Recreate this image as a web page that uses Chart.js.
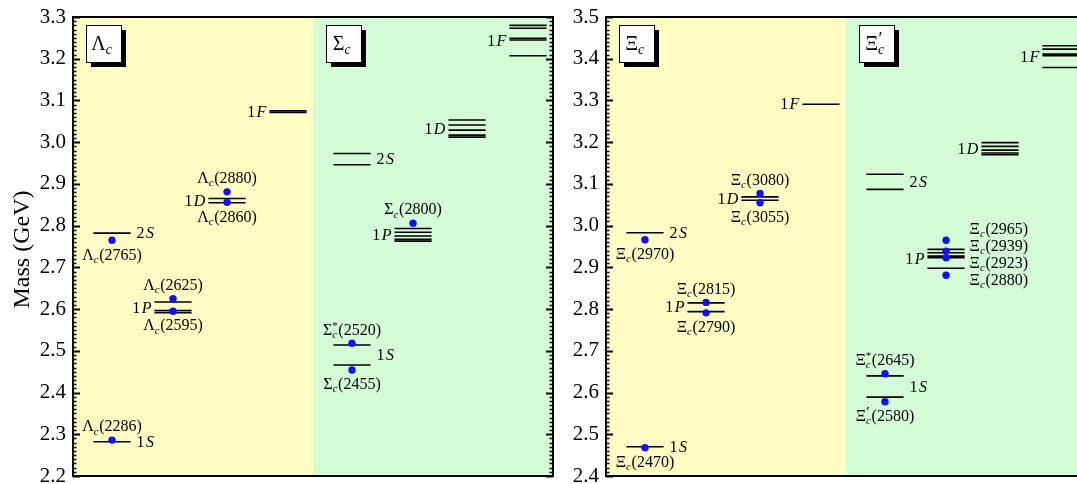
<!DOCTYPE html>
<html>
<head>
<meta charset="utf-8">
<script src="https://cdn.jsdelivr.net/npm/chart.js@4.4.1/dist/chart.umd.min.js"></script>
<style>
  html, body { margin: 0; padding: 0; background: #fff; overflow: hidden; width: 1077px; height: 484px; }
  #wrap { position: relative; width: 1077px; height: 484px; overflow: hidden; }
  canvas { position: absolute; top: 0; }
  #c1 { left: 0; }
  #c2 { left: 556px; }
</style>
</head>
<body>
<div id="wrap">
  <canvas id="c1" width="560" height="484"></canvas>
  <canvas id="c2" width="537" height="484"></canvas>
</div>
<script>
// ---------- predicted levels (GeV) ----------
const lambdaC_1S = [2.282];
const lambdaC_2S = [2.782];
const lambdaC_1P = [2.617, 2.5965, 2.5915];
const lambdaC_1D = [2.865, 2.855];
const lambdaC_1F = [3.075, 3.071];

const sigmaC_1S = [2.514, 2.466];
const sigmaC_2S = [2.973, 2.946];
const sigmaC_1P = [2.793, 2.784, 2.775, 2.767, 2.763];
const sigmaC_1D = [3.053, 3.041, 3.029, 3.017, 3.012];
const sigmaC_1F = [3.280, 3.273, 3.249, 3.245, 3.207];

const xiC_1S = [2.470];
const xiC_2S = [2.983];
const xiC_1P = [2.815, 2.794];
const xiC_1D = [3.069, 3.061];
const xiC_1F = [3.291];

const xiPrimeC_1S = [2.640, 2.589];
const xiPrimeC_2S = [3.123, 3.087];
const xiPrimeC_1P = [2.943, 2.935, 2.927, 2.923, 2.898];
const xiPrimeC_1D = [3.199, 3.190, 3.181, 3.174, 3.170];
const xiPrimeC_1F = [3.431, 3.423, 3.411, 3.407, 3.379];

// ---------- observed states ----------
const lambdaC_obsNames = ['Λ_c(2286)', 'Λ_c(2765)', 'Λ_c(2625)', 'Λ_c(2595)', 'Λ_c(2880)', 'Λ_c(2860)'];
const lambdaC_obsMass  = [2.286, 2.765, 2.625, 2.595, 2.881, 2.856];
const lambdaC_obsWave  = ['1S', '2S', '1P', '1P', '1D', '1D'];

const sigmaC_obsNames = ['Σ_c^*(2520)', 'Σ_c(2455)', 'Σ_c(2800)'];
const sigmaC_obsMass  = [2.518, 2.454, 2.806];
const sigmaC_obsWave  = ['1S', '1S', '1P'];

const xiC_obsNames = ['Ξ_c(2470)', 'Ξ_c(2970)', 'Ξ_c(2815)', 'Ξ_c(2790)', 'Ξ_c(3080)', 'Ξ_c(3055)'];
const xiC_obsMass  = [2.468, 2.966, 2.816, 2.791, 3.077, 3.055];
const xiC_obsWave  = ['1S', '2S', '1P', '1P', '1D', '1D'];

const xiPrimeC_obsNames = ['Ξ_c^*(2645)', "Ξ'_c(2580)", 'Ξ_c(2965)', 'Ξ_c(2939)', 'Ξ_c(2923)', 'Ξ_c(2880)'];
const xiPrimeC_obsMass  = [2.645, 2.578, 2.965, 2.939, 2.923, 2.881];
const xiPrimeC_obsWave  = ['1S', '1S', '1P', '1P', '1P', '1P'];

// ---------- axis ticks ----------
const leftTicks  = [2.2, 2.3, 2.4, 2.5, 2.6, 2.7, 2.8, 2.9, 3.0, 3.1, 3.2, 3.3];
const rightTicks = [2.4, 2.5, 2.6, 2.7, 2.8, 2.9, 3.0, 3.1, 3.2, 3.3, 3.4, 3.5];

// ---------- layout of the level diagram ----------
const waveColumn = { '1S': 0, '2S': 0, '1P': 1, '1D': 2, '1F': 3 };
const columnX = [0.65, 1.667, 2.567, 3.583];   // centre of each column inside a 4-unit sector
const HALF = 0.31;                              // half length of a level line
const FONT = '"Liberation Serif", "Times New Roman", serif';
const YELLOW = 'rgb(255,252,196)';
const GREEN = 'rgb(212,252,214)';
const DOT = '#1010ff';

// label side of each observed state: 'up' / 'down' above or below its dot, 'right' stacked to the right
const lambdaC_side = ['up', 'down', 'up', 'down', 'up', 'down'];
const sigmaC_side = ['up', 'down', 'up'];
const xiC_side = ['down', 'down', 'up', 'down', 'up', 'down'];
const xiPrimeC_side = ['up', 'down', 'right', 'right', 'right', 'right'];

const leftSectors = [
  { offset: 0, title: 'Λ_c', fill: YELLOW,
    levels: { '1S': lambdaC_1S, '2S': lambdaC_2S, '1P': lambdaC_1P, '1D': lambdaC_1D, '1F': lambdaC_1F },
    names: lambdaC_obsNames, mass: lambdaC_obsMass, wave: lambdaC_obsWave, side: lambdaC_side },
  { offset: 4, title: 'Σ_c', fill: GREEN,
    levels: { '1S': sigmaC_1S, '2S': sigmaC_2S, '1P': sigmaC_1P, '1D': sigmaC_1D, '1F': sigmaC_1F },
    names: sigmaC_obsNames, mass: sigmaC_obsMass, wave: sigmaC_obsWave, side: sigmaC_side }
];
const rightSectors = [
  { offset: 0, title: 'Ξ_c', fill: YELLOW,
    levels: { '1S': xiC_1S, '2S': xiC_2S, '1P': xiC_1P, '1D': xiC_1D, '1F': xiC_1F },
    names: xiC_obsNames, mass: xiC_obsMass, wave: xiC_obsWave, side: xiC_side },
  { offset: 4, title: "Ξ'_c", fill: GREEN,
    levels: { '1S': xiPrimeC_1S, '2S': xiPrimeC_2S, '1P': xiPrimeC_1P, '1D': xiPrimeC_1D, '1F': xiPrimeC_1F },
    names: xiPrimeC_obsNames, mass: xiPrimeC_obsMass, wave: xiPrimeC_obsWave, side: xiPrimeC_side }
];

// ---------- text helpers: names such as Σ_c^*(2520) or Ξ'_c(2580) ----------
function parseName(str) {
  const m = str.match(/^(.)('?)_(c)(\^\*)?(.*)$/);
  return { base: m[1], prime: !!m[2], sub: m[3], star: !!m[4], rest: m[5] };
}
function richParts(ctx, p, size) {
  const s = size * 0.68;
  ctx.font = `${size}px ${FONT}`;
  const wBase = ctx.measureText(p.base).width;
  ctx.font = `italic ${s}px ${FONT}`;
  const wSub = ctx.measureText(p.sub).width;
  ctx.font = `${s}px ${FONT}`;
  const supText = p.star ? '*' : (p.prime ? '′' : '');
  const wSup = supText ? ctx.measureText(supText).width : 0;
  ctx.font = `${size}px ${FONT}`;
  const wRest = ctx.measureText(p.rest).width;
  const wMid = Math.max(wSub, wSup) + size * 0.04;
  return { s, wBase, wSub, wSup, supText, wRest, wMid, total: wBase + wMid + wRest };
}
function drawName(ctx, str, x, y, size, align) {
  const p = parseName(str);
  const r = richParts(ctx, p, size);
  let x0 = x;
  if (align === 'center') x0 = x - r.total / 2;
  else if (align === 'right') x0 = x - r.total;
  ctx.save();
  ctx.fillStyle = '#000';
  ctx.textAlign = 'left';
  ctx.textBaseline = 'alphabetic';
  const base = y + size * 0.33;
  ctx.font = `${size}px ${FONT}`;
  ctx.fillText(p.base, x0, base);
  ctx.font = `italic ${r.s}px ${FONT}`;
  ctx.fillText(p.sub, x0 + r.wBase, base + size * 0.2);
  if (r.supText) {
    ctx.font = `${p.prime ? size * 0.9 : r.s}px ${FONT}`;
    ctx.fillText(r.supText, x0 + r.wBase + (p.prime ? size * 0.02 : 0), base - size * (p.prime ? 0.25 : 0.38));
  }
  ctx.font = `${size}px ${FONT}`;
  ctx.fillText(p.rest, x0 + r.wBase + r.wMid, base);
  ctx.restore();
}
function drawTag(ctx, tag, x, y, size, align) {
  ctx.save();
  ctx.fillStyle = '#000';
  ctx.textBaseline = 'middle';
  ctx.textAlign = 'left';
  ctx.font = `${size}px ${FONT}`;
  const w1 = ctx.measureText(tag[0]).width;
  ctx.font = `italic ${size}px ${FONT}`;
  const w2 = ctx.measureText(tag.slice(1)).width;
  const gap = size * 0.08;
  let x0 = align === 'right' ? x - (w1 + gap + w2) : x;
  ctx.font = `${size}px ${FONT}`;
  ctx.fillText(tag[0], x0, y + 1);
  ctx.font = `italic ${size}px ${FONT}`;
  ctx.fillText(tag.slice(1), x0 + w1 + gap, y + 1);
  ctx.restore();
}

// ---------- plugins ----------
const sectorBackground = {
  id: 'sectorBackground',
  beforeDatasetsDraw(chart, args, opts) {
    const { ctx, chartArea: a, scales: { x } } = chart;
    ctx.save();
    opts.sectors.forEach(sec => {
      const x0 = x.getPixelForValue(sec.offset);
      const x1 = x.getPixelForValue(sec.offset + 4);
      ctx.fillStyle = sec.fill;
      ctx.fillRect(x0, a.top, x1 - x0, a.bottom - a.top);
    });
    ctx.restore();
  }
};

const decorations = {
  id: 'decorations',
  afterDatasetsDraw(chart, args, opts) {
    const { ctx, chartArea: a, scales: { x, y } } = chart;
    ctx.save();
    // frame
    ctx.strokeStyle = '#000';
    ctx.lineWidth = 2;
    ctx.strokeRect(a.left, a.top, a.right - a.left, a.bottom - a.top);
    // inward ticks on both vertical edges, minor every 0.01
    const n = Math.round((y.max - y.min) * 100);
    for (let i = 0; i <= n; i++) {
      const v = y.min + i / 100;
      const py = Math.round(y.getPixelForValue(v)) + 0.5;
      const major = i % 10 === 0;
      const len = major ? 7 : 3.5;
      ctx.lineWidth = major ? 2 : 1.5;
      ctx.beginPath();
      ctx.moveTo(a.left, py); ctx.lineTo(a.left + len, py);
      ctx.moveTo(a.right, py); ctx.lineTo(a.right - len, py);
      ctx.stroke();
    }
    opts.sectors.forEach(sec => {
      // title box with drop shadow
      const bx = x.getPixelForValue(sec.offset) + 13, by = a.top + 8, bw = 35, bh = 37;
      ctx.fillStyle = '#000';
      ctx.fillRect(bx + 5, by + 5, bw, bh);
      ctx.fillStyle = '#fff';
      ctx.fillRect(bx, by, bw, bh);
      ctx.lineWidth = 1;
      ctx.strokeStyle = '#000';
      ctx.strokeRect(bx + 0.5, by + 0.5, bw, bh);
      const tp = parseName(sec.title + ' ');
      const tr = richParts(ctx, tp, 20);
      drawName(ctx, sec.title, bx + bw / 2 - tr.total / 2 + 1, by + bh / 2, 20, 'left');

      // multiplet tags
      Object.keys(sec.levels).forEach(w => {
        const vals = sec.levels[w];
        const cx = sec.offset + columnX[waveColumn[w]];
        const py = (y.getPixelForValue(Math.max(...vals)) + y.getPixelForValue(Math.min(...vals))) / 2;
        if (w === '1S' || w === '2S') {
          drawTag(ctx, w, x.getPixelForValue(cx + HALF) + 6, py, 16, 'left');
        } else {
          drawTag(ctx, w, x.getPixelForValue(cx - HALF) - 3, py, 16, 'right');
        }
      });

      // observed-state names
      const rightIdx = sec.side.map((s, i) => s === 'right' ? i : -1).filter(i => i >= 0);
      const meanRight = rightIdx.length ? rightIdx.reduce((s, i) => s + y.getPixelForValue(sec.mass[i]), 0) / rightIdx.length : 0;
      sec.names.forEach((nm, i) => {
        const cx = sec.offset + columnX[waveColumn[sec.wave[i]]];
        const px = x.getPixelForValue(cx);
        const py = y.getPixelForValue(sec.mass[i]);
        if (sec.side[i] === 'up') drawName(ctx, nm, px, py - 14, 16, 'center');
        else if (sec.side[i] === 'down') drawName(ctx, nm, px, py + 14, 16, 'center');
        else {
          const k = rightIdx.indexOf(i);
          drawName(ctx, nm, x.getPixelForValue(cx + HALF) + 5, meanRight - 2 + (k - (rightIdx.length - 1) / 2) * 17, 16, 'left');
        }
      });
    });
    // vertical axis title
    if (opts.axisTitle) {
      ctx.save();
      ctx.translate(23, (a.top + a.bottom) / 2 + 3);
      ctx.rotate(-Math.PI / 2);
      ctx.fillStyle = '#000';
      ctx.font = `24px ${FONT}`;
      ctx.textAlign = 'center';
      ctx.textBaseline = 'middle';
      ctx.fillText(opts.axisTitle, 0, 0);
      ctx.restore();
    }
    ctx.restore();
  }
};

// ---------- chart builder ----------
function buildChart(canvasId, sectors, tickValues, axisWidth, axisTitle) {
  const datasets = [];
  const dots = [];
  sectors.forEach(sec => {
    Object.keys(sec.levels).forEach(w => {
      const cx = sec.offset + columnX[waveColumn[w]];
      sec.levels[w].forEach(m => {
        datasets.push({
          data: [{ x: cx - HALF, y: m }, { x: cx + HALF, y: m }],
          showLine: true, borderColor: '#000', borderWidth: 1.6,
          pointRadius: 0, borderCapStyle: 'butt', order: 1
        });
      });
    });
    sec.mass.forEach((m, i) => {
      dots.push({ x: sec.offset + columnX[waveColumn[sec.wave[i]]], y: m });
    });
  });
  datasets.push({
    data: dots, showLine: false, pointRadius: 3.7, pointBackgroundColor: DOT,
    pointBorderWidth: 0, pointBorderColor: DOT, order: 0
  });

  return new Chart(document.getElementById(canvasId), {
    type: 'scatter',
    data: { datasets },
    options: {
      responsive: false,
      animation: false,
      events: [],
      layout: { padding: { top: 17, bottom: 8, left: 0, right: 7 } },
      plugins: {
        legend: { display: false },
        tooltip: { enabled: false },
        sectorBackground: { sectors },
        decorations: { sectors, axisTitle }
      },
      scales: {
        x: { type: 'linear', min: 0, max: 8, display: false },
        y: {
          type: 'linear',
          min: tickValues[0],
          max: tickValues[tickValues.length - 1],
          afterBuildTicks: s => { s.ticks = tickValues.map(v => ({ value: v })); },
          ticks: {
            color: '#000',
            padding: 7,
            font: { family: FONT, size: 21 },
            callback: v => Number(v).toFixed(1)
          },
          grid: { display: false, drawTicks: false },
          border: { display: false },
          afterFit: s => { s.width = axisWidth; s.paddingTop = 0; s.paddingBottom = 0; }
        }
      }
    },
    plugins: [sectorBackground, decorations]
  });
}

function drawAll() {
  buildChart('c1', leftSectors, leftTicks, 73, 'Mass (GeV)');
  buildChart('c2', rightSectors, rightTicks, 50, null);
}
const fontsReady = document.fonts && document.fonts.load
  ? Promise.all([
      document.fonts.load('16px "Liberation Serif"'),
      document.fonts.load('italic 16px "Liberation Serif"')
    ]).catch(() => null)
  : Promise.resolve();
fontsReady.then(drawAll);
</script>
</body>
</html>
